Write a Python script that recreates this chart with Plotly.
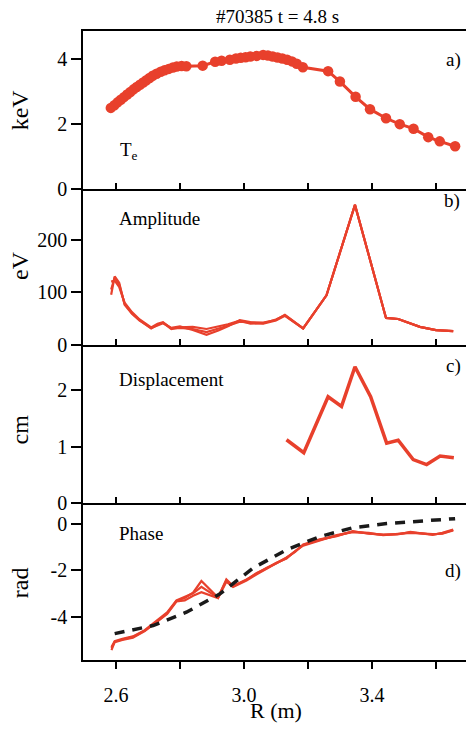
import plotly.graph_objects as go

# ---------------- data ----------------
te_r = [2.584, 2.595, 2.605, 2.615, 2.625, 2.635, 2.645, 2.655, 2.665, 2.675,
        2.685, 2.695, 2.705, 2.715, 2.727, 2.74, 2.752, 2.765, 2.778, 2.79,
        2.805, 2.82, 2.871, 2.91, 2.93, 2.956, 2.975, 2.99, 3.005, 3.02,
        3.04, 3.06, 3.075, 3.09, 3.105, 3.12, 3.135, 3.15, 3.165, 3.184,
        3.263, 3.30, 3.349, 3.394, 3.444, 3.487, 3.53, 3.576, 3.612, 3.66]
te_kev = [2.50, 2.58, 2.67, 2.75, 2.83, 2.91, 2.99, 3.07, 3.14, 3.21,
          3.28, 3.35, 3.42, 3.49, 3.55, 3.61, 3.66, 3.70, 3.74, 3.77,
          3.79, 3.78, 3.80, 3.92, 3.95, 3.98, 4.02, 4.04, 4.06, 4.08,
          4.10, 4.13, 4.11, 4.08, 4.05, 4.02, 3.98, 3.93, 3.86, 3.75,
          3.63, 3.31, 2.84, 2.46, 2.18, 2.00, 1.86, 1.60, 1.47, 1.32]

amp_r = [2.585, 2.596, 2.61, 2.627, 2.65, 2.674, 2.71, 2.73, 2.747, 2.773,
         2.80, 2.84, 2.883, 2.92, 2.95, 2.987, 3.02, 3.06, 3.10, 3.128,
         3.185, 3.258, 3.347, 3.444, 3.482, 3.55, 3.60, 3.654]
amp_1 = [105, 128, 115, 78, 60, 47, 31, 38, 42, 30,
         33, 34, 30, 35, 39, 46, 40, 41, 48, 56,
         31, 94, 266, 51, 49, 34, 28, 26]
amp_2 = [120, 122, 110, 80, 62, 48, 33, 40, 43, 31,
         32, 30, 24, 30, 36, 44, 42, 40, 46, 55,
         31, 94, 266, 51, 49, 34, 28, 26]
amp_3 = [95, 130, 118, 76, 59, 46, 32, 37, 41, 32,
         35, 28, 19, 27, 35, 47, 43, 42, 47, 57,
         31, 94, 266, 51, 49, 34, 28, 26]

disp_r = [3.133, 3.187, 3.263, 3.305, 3.347, 3.396, 3.446, 3.482, 3.529, 3.571, 3.613, 3.656]
disp_cm = [1.12, 0.89, 1.88, 1.71, 2.41, 1.88, 1.06, 1.11, 0.77, 0.68, 0.83, 0.80]

ph_r = [2.586, 2.596, 2.62, 2.653, 2.69, 2.726, 2.76, 2.789, 2.815, 2.841,
        2.867, 2.919, 2.945, 2.966, 3.008, 3.04, 3.07, 3.10, 3.133, 3.16,
        3.185, 3.237, 3.29, 3.34, 3.39, 3.435, 3.48, 3.52, 3.59, 3.62, 3.654]
ph_1 = [-5.44, -5.08, -4.98, -4.87, -4.60, -4.24, -3.85, -3.32, -3.20, -2.97,
        -2.47, -3.18, -2.40, -2.68, -2.40, -2.15, -1.91, -1.72, -1.48, -1.20,
        -0.92, -0.70, -0.52, -0.35, -0.42, -0.49, -0.45, -0.38, -0.47, -0.42, -0.28]
ph_2 = [-5.30, -5.05, -4.95, -4.85, -4.58, -4.20, -3.82, -3.30, -3.15, -3.00,
        -2.72, -3.18, -2.45, -2.70, -2.42, -2.12, -1.93, -1.70, -1.50, -1.18,
        -0.95, -0.72, -0.50, -0.37, -0.40, -0.50, -0.43, -0.40, -0.45, -0.44, -0.30]
ph_3 = [-5.35, -5.10, -5.00, -4.90, -4.62, -4.26, -3.88, -3.35, -3.30, -3.10,
        -2.95, -3.20, -2.50, -2.72, -2.45, -2.18, -1.95, -1.75, -1.46, -1.22,
        -0.90, -0.68, -0.54, -0.33, -0.44, -0.48, -0.47, -0.36, -0.49, -0.40, -0.26]

fit_r = [2.596, 2.716, 2.82, 2.924, 3.029, 3.133, 3.237, 3.34, 3.446, 3.55, 3.66]
fit_ph = [-4.73, -4.38, -3.81, -3.03, -1.91, -1.13, -0.56, -0.18, 0.00, 0.10, 0.21]

x_major = [2.6, 3.0, 3.4]
x_major_text = ["2.6", "3.0", "3.4"]
y_ticks = [[0, 2, 4], [0, 100, 200], [0, 1, 2], [-4, -2, 0]]
y_ticktext = [["0", "2", "4"], ["0", "100", "200"], ["0", "1", "2"], ["-4", "-2", "0"]]

# ---------------- figure ----------------
W, H = 466, 734
RED = "#E8402C"
FONT = "Liberation Serif, Times New Roman, serif"

def py(p):
    return 1 - p / H

fig = go.Figure()

fig.add_trace(go.Scatter(x=te_r, y=te_kev, mode="lines+markers",
                         line=dict(color=RED, width=3),
                         marker=dict(color=RED, size=10.5),
                         xaxis="x", yaxis="y", showlegend=False))
for a in (amp_1, amp_2, amp_3):
    fig.add_trace(go.Scatter(x=amp_r, y=a, mode="lines",
                             line=dict(color=RED, width=2.2),
                             xaxis="x2", yaxis="y2", showlegend=False))
fig.add_trace(go.Scatter(x=disp_r, y=disp_cm, mode="lines",
                         line=dict(color=RED, width=3.5),
                         xaxis="x3", yaxis="y3", showlegend=False))
for p in (ph_1, ph_2, ph_3):
    fig.add_trace(go.Scatter(x=ph_r, y=p, mode="lines",
                             line=dict(color=RED, width=2.2),
                             xaxis="x4", yaxis="y4", showlegend=False))
fig.add_trace(go.Scatter(x=fit_r, y=fit_ph, mode="lines",
                         line=dict(color="#1a1a1a", width=3.5, dash="10px,8px"),
                         xaxis="x4", yaxis="y4", showlegend=False))

xdom = [83 / W, 1.0]
xrange_ = [2.497, 3.694]
panels = [  # (top px, bottom px, yrange)
    (31, 192, [0, 4.88]),
    (192, 350, [0, 296]),
    (350, 510.7, [0, 2.8]),
    (510.7, 670, [-5.86, 0.88]),
]

layout = dict(width=W, height=H, margin=dict(l=0, r=0, t=0, b=0),
              paper_bgcolor="white", plot_bgcolor="rgba(0,0,0,0)",
              font=dict(family=FONT, color="black", size=19))

for i, (top, bot, yr) in enumerate(panels):
    n = "" if i == 0 else str(i + 1)
    last = i == 3
    xa = dict(
        domain=xdom, range=xrange_, anchor="y" + n,
        showline=True, linecolor="black", linewidth=1.5,
        mirror=(i == 0), showgrid=False, zeroline=False,
        tickmode="array", tickvals=x_major, ticktext=x_major_text,
        showticklabels=last,
        ticks="inside", ticklen=6, tickwidth=1.5, tickcolor="black",
        tickfont=dict(family=FONT, size=20, color="black"),
        minor=dict(tickmode="linear", tick0=2.6, dtick=0.2,
                   ticks="inside", ticklen=6, tickwidth=1.5, tickcolor="black",
                   showgrid=False),
    )
    if last:
        xa.update(ticks="outside", ticklen=7, tickcolor="rgba(0,0,0,0)",
                  ticklabelstandoff=9,
                  minor=dict(tickmode="linear", tick0=2.6, dtick=0.2,
                             ticks="outside", ticklen=7, tickwidth=1.5,
                             tickcolor="black", showgrid=False))
    layout["xaxis" + n] = xa
    layout["yaxis" + n] = dict(
        domain=[py(bot), py(top)], range=yr, anchor="x" + n,
        showline=True, linecolor="black", linewidth=1.5,
        showgrid=False, zeroline=False,
        tickmode="array", tickvals=y_ticks[i], ticktext=y_ticktext[i],
        ticks="outside", ticklen=10, tickwidth=1.5, tickcolor="black",
        tickfont=dict(family=FONT, size=20, color="black"),
    )

fig.update_layout(**layout)

ann = []
def add_text(txt, xp, yp, size=19, angle=0, xanchor="center"):
    ann.append(dict(text=txt, x=xp / W, y=py(yp), xref="paper", yref="paper",
                    showarrow=False, textangle=angle, xanchor=xanchor,
                    yanchor="middle",
                    font=dict(family=FONT, size=size, color="black")))

add_text("#70385 t = 4.8 s", 277, 17, size=19)
add_text("keV", 20, 112, size=24, angle=-90)
add_text("eV", 20, 270, size=24, angle=-90)
add_text("cm", 20, 436, size=24, angle=-90)
add_text("rad", 20, 592, size=24, angle=-90)
add_text("R (m)", 276, 721, size=22)
add_text("a)", 453, 61)
add_text("b)", 452, 204)
add_text("c)", 453, 372)
add_text("d)", 453, 580)
add_text("T<sub>e</sub>", 118, 153, size=19, xanchor="left")
add_text("Amplitude", 117, 222, size=19, xanchor="left")
add_text("Displacement", 117, 385, size=19, xanchor="left")
add_text("Phase", 117, 542, size=19, xanchor="left")

fig.update_layout(annotations=ann)
fig.write_html("out.html")
